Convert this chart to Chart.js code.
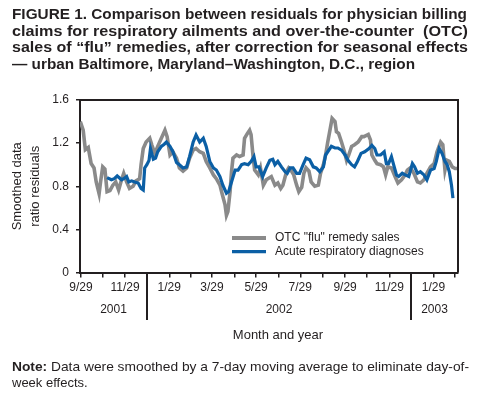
<!DOCTYPE html>
<html>
<head>
<meta charset="utf-8">
<script src="https://cdn.jsdelivr.net/npm/chart.js@4.4.0/dist/chart.umd.min.js"></script>
<style>
  html, body { margin: 0; padding: 0; background: #fff; }
  body { width: 478px; height: 395px; position: relative; overflow: hidden; font-family: 'Liberation Sans', Arial, Helvetica, sans-serif; color: #231f20; }
  #wrap { position: absolute; left: 0; top: 0; width: 478px; height: 395px; }
  #title { position: absolute; left: 12px; top: 6px; font-weight: bold; font-size: 15px; line-height: 16.7px; }
  #title div, #note div { white-space: nowrap; transform-origin: 0 0; }
  #note { position: absolute; left: 12px; top: 359px; font-size: 13px; line-height: 16px; }
  #xtitle { position: absolute; left: 0; width: 556px; top: 327px; text-align: center; font-size: 13px; line-height: 16px; }
</style>
</head>
<body>
<div id="wrap"><canvas id="c" width="478" height="395"></canvas></div>
<div id="title">
  <div data-w="455">FIGURE 1. Comparison between residuals for physician billing</div>
  <div data-w="456">claims for respiratory ailments and over-the-counter&nbsp; (OTC)</div>
  <div data-w="456">sales of “flu” remedies, after correction for seasonal effects</div>
  <div data-w="403">— urban Baltimore, Maryland–Washington, D.C., region</div>
</div>
<div id="xtitle">Month and year</div>
<div id="note">
  <div data-w="457"><b>Note:</b> Data were smoothed by a 7-day moving average to eliminate day-of-</div>
  <div>week effects.</div>
</div>
<script>
// ---- Data (days counted from 9/29/2001) ----
const otcDays = [-1,3,6,10,14,18,21,25,27,30,33,36,40,44,48,52,56,59,63,67,72,76,81,83,86,90,95,98,102,106,111,116,119,123,127,132,136,141,146,150,155,159,164,169,173,178,183,187,192,195,199,201,203,206,208,210,215,219,224,226,230,233,235,238,240,245,248,252,256,263,268,272,276,279,284,287,290,294,298,301,305,308,311,315,318,323,328,331,335,338,341,345,347,351,353,356,360,364,367,370,374,378,383,388,391,397,400,402,406,409,414,418,421,424,429,434,438,443,448,451,455,460,465,469,474,478,483,488,492,497,500,503,506,509,513,517,521];
const otcValues = [1.40,1.32,1.14,1.16,1.01,0.97,0.84,0.73,0.84,0.98,0.96,0.75,0.76,0.81,0.84,0.765,0.86,0.92,0.84,0.78,0.80,0.85,0.87,1.00,1.15,1.21,1.245,1.18,1.105,1.17,1.245,1.32,1.26,1.09,1.12,1.06,0.97,0.94,0.97,1.06,1.135,1.15,1.12,1.105,1.03,0.97,0.905,0.87,0.81,0.73,0.63,0.53,0.565,0.75,0.935,1.06,1.09,1.075,1.09,1.245,1.29,1.32,1.28,1.06,0.95,0.905,0.97,0.81,0.86,0.89,0.81,0.83,0.78,0.81,0.935,0.97,0.95,0.905,0.81,0.75,0.79,0.92,0.97,0.94,0.84,0.80,0.81,0.92,1.00,1.09,1.21,1.355,1.43,1.40,1.305,1.29,1.21,1.12,1.04,1.09,1.17,1.185,1.21,1.26,1.26,1.28,1.23,1.09,1.04,1.01,1.00,0.98,0.905,0.98,0.97,0.89,0.83,0.86,0.905,0.95,0.97,0.92,0.84,0.83,0.86,0.92,0.98,1.01,1.12,1.21,1.185,0.95,1.04,1.03,0.98,0.965,0.965];
const ardDays = [36,42,46,50,56,59,63,66,70,74,79,83,86,88,91,94,96,100,103,106,111,115,118,123,127,132,136,141,146,150,155,159,164,169,173,178,183,187,192,196,201,204,208,213,217,222,226,231,235,239,242,246,251,256,261,265,268,272,277,282,285,289,293,298,302,307,311,316,321,325,330,335,338,341,346,351,355,360,365,369,374,378,382,387,392,398,402,406,409,414,419,422,425,429,432,436,439,444,448,453,458,461,465,469,474,478,483,488,491,495,499,503,506,509,512,514];
const ardValues = [0.88,0.86,0.87,0.895,0.86,0.87,0.89,0.84,0.85,0.84,0.83,0.78,0.765,0.97,1.00,1.04,1.15,1.05,1.06,1.12,1.17,1.19,1.21,1.17,1.12,1.02,1.00,0.97,0.98,1.075,1.21,1.275,1.21,1.245,1.17,1.03,0.97,0.95,0.89,0.81,0.735,0.75,0.84,0.95,0.95,1.00,1.01,1.00,1.03,1.075,0.98,0.98,0.89,0.97,1.04,1.05,1.00,1.03,0.98,0.935,0.92,0.97,0.97,0.92,0.92,1.00,1.06,1.045,0.98,0.97,0.935,0.98,1.09,1.12,1.17,1.155,1.155,1.135,1.09,1.04,1.00,0.98,1.03,1.105,1.12,1.15,1.18,1.15,1.09,1.09,1.12,1.01,1.01,1.075,1.00,0.905,0.89,0.92,0.905,0.89,1.01,0.98,0.92,0.935,0.905,0.86,0.95,0.965,1.03,1.15,1.105,1.03,1.00,0.935,0.81,0.69];
const seriesNames = ['OTC "flu" remedy sales', 'Acute respiratory diagnoses'];
const tickDates = ['2001-09-29','2001-10-29','2001-11-29','2001-12-29','2002-01-29','2002-02-28','2002-03-29','2002-04-29','2002-05-29','2002-06-29','2002-07-29','2002-08-29','2002-09-29','2002-10-29','2002-11-29','2002-12-29','2003-01-29','2003-02-28'];
const tickLabels = ['9/29','','11/29','','1/29','','3/29','','5/29','','7/29','','9/29','','11/29','','1/29',''];
const yearLabels = ['2001','2002','2003'];
const yearDividers = ['2001-12-29','2002-12-29'];
const yTicks = [0, 0.4, 0.8, 1.2, 1.6];

// ---- helpers ----
const ORIGIN = Date.UTC(2001, 8, 29);
function dayOf(s) { const p = s.split('-').map(Number); return Math.round((Date.UTC(p[0], p[1]-1, p[2]) - ORIGIN) / 86400000); }
const tickDays = tickDates.map(dayOf);
const dividerDays = yearDividers.map(dayOf);
const X_MIN = -1.4, X_MAX = 521;

const INK = '#231f20';
const GRAY = '#8a8a8a';
const BLUE = '#0b5fa5';
const FONT = "'Liberation Sans', Arial, Helvetica, sans-serif";

const decor = {
  id: 'decor',
  afterDraw(chart) {
    const {ctx, chartArea: a, scales: {x}} = chart;
    ctx.save();
    // box
    ctx.strokeStyle = INK; ctx.lineWidth = 2;
    ctx.beginPath();
    ctx.moveTo(a.left, a.top); ctx.lineTo(a.right, a.top); ctx.lineTo(a.right, a.bottom);
    ctx.stroke();
    // year dividers
    const divPx = dividerDays.map(d => Math.round(x.getPixelForValue(d)));
    ctx.lineWidth = 2;
    divPx.forEach(px => { ctx.beginPath(); ctx.moveTo(px, a.bottom); ctx.lineTo(px, 320); ctx.stroke(); });
    // year labels
    const bounds = [a.left].concat(divPx).concat([a.right]);
    ctx.fillStyle = INK; ctx.font = '12px ' + FONT; ctx.textAlign = 'center'; ctx.textBaseline = 'middle';
    yearLabels.forEach((t, i) => ctx.fillText(t, (bounds[i] + bounds[i+1]) / 2, 310));
    // legend
    const items = [{c: GRAY, w: 4, y: 238, t: seriesNames[0]}, {c: BLUE, w: 3.3, y: 251.7, t: seriesNames[1]}];
    ctx.textAlign = 'left';
    items.forEach(it => {
      ctx.strokeStyle = it.c; ctx.lineWidth = it.w;
      ctx.beginPath(); ctx.moveTo(232, it.y); ctx.lineTo(266, it.y); ctx.stroke();
      ctx.fillStyle = INK; ctx.fillText(it.t, 275, it.y);
    });
    ctx.restore();
  }
};

new Chart(document.getElementById('c'), {
  type: 'line',
  data: {
    datasets: [
      { label: seriesNames[1], data: ardDays.map((d, i) => ({x: d, y: ardValues[i]})), borderColor: BLUE, borderWidth: 3.2, pointRadius: 0, tension: 0, fill: false },
      { label: seriesNames[0], data: otcDays.map((d, i) => ({x: d, y: otcValues[i]})), borderColor: GRAY, borderWidth: 3.6, pointRadius: 0, tension: 0, fill: false }
    ]
  },
  options: {
    responsive: false,
    animation: false,
    layout: { padding: { top: 100, right: 20, left: 0, bottom: 0 } },
    plugins: { legend: { display: false }, tooltip: { enabled: false }, title: { display: false } },
    scales: {
      x: {
        type: 'linear', min: X_MIN, max: X_MAX,
        afterBuildTicks(s) { s.ticks = tickDays.map(v => ({value: v})); },
        afterFit(s) { s.height = 122.5; },
        border: { color: INK, width: 2 },
        grid: { drawOnChartArea: false, drawTicks: true, tickLength: 5, color: INK, lineWidth: 1.5 },
        ticks: { autoSkip: false, maxRotation: 0, padding: 3, color: INK, font: { family: FONT, size: 12 },
          callback(v, i) { return tickLabels[i]; } }
      },
      y: {
        min: 0, max: 1.6,
        afterBuildTicks(s) { s.ticks = yTicks.map(v => ({value: v})); },
        afterFit(s) { s.width = 80; },
        border: { color: INK, width: 2 },
        grid: { drawOnChartArea: false, drawTicks: true, tickLength: 4, color: INK, lineWidth: 1.5 },
        ticks: { padding: 7, color: INK, font: { family: FONT, size: 12 },
          callback(v) { return String(v); } },
        title: { display: true, text: ['Smoothed data', 'ratio residuals'], color: INK,
          font: { family: FONT, size: 13, lineHeight: '18px' }, padding: { top: 8, bottom: 0 } }
      }
    }
  },
  plugins: [decor]
});

// fit HTML text lines to the reference widths
document.querySelectorAll('[data-w]').forEach(el => {
  el.style.display = 'inline-block';
  const w = el.getBoundingClientRect().width;
  const target = parseFloat(el.dataset.w);
  el.style.transform = 'scaleX(' + (target / w) + ')';
  el.style.display = 'block';
});
</script>
</body>
</html>
